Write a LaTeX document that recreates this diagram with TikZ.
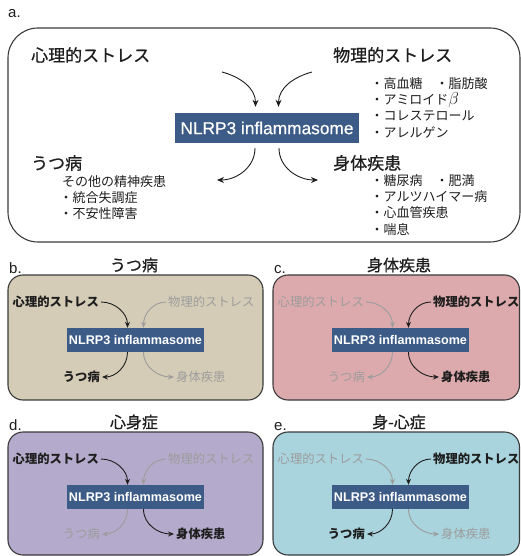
\documentclass[tikz,border=0pt]{standalone}
\usepackage{fontspec}
\setmainfont{Liberation Sans}
\newfontfamily\nlfont[FakeBold=0.6]{Liberation Sans}
\newfontfamily\jp{Noto Sans CJK JP}
\newfontfamily\jpm[FakeBold=0.8]{Noto Sans CJK JP}
\usetikzlibrary{arrows.meta}
\definecolor{nlblue}{HTML}{3D5B87}
\definecolor{boxline}{HTML}{3A3A3A}
\definecolor{dark}{HTML}{1E1E1E}
\definecolor{lgray}{HTML}{9C9C9C}
\definecolor{tanf}{HTML}{D4CCB6}
\definecolor{pinkf}{HTML}{DCAAAD}
\definecolor{lavf}{HTML}{B4AACB}
\definecolor{bluef}{HTML}{A9D3DD}
\tikzset{
  pbox/.style={draw=boxline, line width=1.1pt, rounded corners=15pt},
  lettr/.style={inner sep=0pt, font=\fontsize{15}{15}\selectfont, text=dark},
  ttl/.style={inner sep=0pt, font=\jpm\fontsize{16}{18}\selectfont, text=dark},
  nlbig/.style={fill=nlblue, text=white, inner xsep=5pt, inner ysep=0pt, minimum height=30pt, font=\nlfont\fontsize{17.3}{18}\selectfont},
  nlsm/.style={fill=nlblue, text=white, inner xsep=2pt, inner ysep=0pt, minimum height=24pt, font=\bfseries\fontsize{12.6}{14}\selectfont},
  onlab/.style={inner xsep=2pt, inner ysep=1pt, text=dark, font=\jp\bfseries\fontsize{12.3}{14}\selectfont},
  offlab/.style={inner xsep=2pt, inner ysep=1pt, text=lgray, font=\jp\fontsize{12.3}{14}\selectfont},
  onarr/.style={draw=dark, line width=0.9pt, -{Stealth[length=6pt,width=5pt]}},
  offarr/.style={draw=lgray, line width=0.9pt, -{Stealth[length=6pt,width=5pt]}},
  bigarr/.style={draw=dark, line width=0.9pt, -{Stealth[length=7pt,width=6pt]}},
  head/.style={inner sep=0pt, anchor=west, text=dark, font=\jpm\fontsize{17}{18}\selectfont},
  item/.style={inner sep=0pt, anchor=west, text=dark, font=\jp\fontsize{13}{14}\selectfont},
}
\newcommand\fpanel[7]{%
  \begin{scope}[shift={#2}]
    \draw[pbox, fill=#4] (0,0) rectangle (#3,#7);
    \node[lettr, anchor=base west] (#1let) at (1,-2) {#5.};
    \node[ttl] (#1ttl) at (126,-10) {#6};
    \node[nlsm] (#1nl) at (127.5,65) {NLRP3 inflammasome};
    \node[LT, anchor=east] (#1lt) at (93,27) {心理的ストレス};
    \node[RT, anchor=west] (#1rt) at (158,27) {物理的ストレス};
    \node[LB, anchor=east] (#1lb) at (94,102) {うつ病};
    \node[RB, anchor=west] (#1rb) at (166,102) {身体疾患};
    \draw[LTa] (#1lt.east) to[out=0,in=90] ([xshift=-8pt]#1nl.north);
    \draw[RTa] (#1rt.west) to[out=180,in=90] ([xshift=8pt]#1nl.north);
    \draw[LBa] ([xshift=-8pt]#1nl.south) to[out=-90,in=0] (#1lb.east);
    \draw[RBa] ([xshift=8pt]#1nl.south) to[out=-90,in=180] (#1rb.west);
  \end{scope}}
\begin{document}
\begin{tikzpicture}[x=1pt,y=-1pt]
\useasboundingbox (0,0) rectangle (521,556);
% panel a
\node[lettr, anchor=base west] (alet) at (8,18) {a.};
\draw[boxline, line width=1.1pt, rounded corners=30pt] (8,28) rectangle (520,242);
\node[nlbig] (anl) at (267,128) {NLRP3 inflammasome};
\node[head] (ah1) at (31,55) {心理的ストレス};
\node[head] (ah2) at (333,55) {物理的ストレス};
\node[head] (ah3) at (31,163) {うつ病};
\node[head] (ah4) at (333,163) {身体疾患};
\node[item] (ar1) at (370.5,84) {・高血糖　・脂肪酸};
\node[item] (ar2) at (370.5,100) {・アミロイド{\fontsize{17}{17}\selectfont$\beta$}};
\node[item] (ar3) at (370.5,116) {・コレステロール};
\node[item] (ar4) at (370.5,132) {・アレルゲン};
\node[item] (al1) at (62,182) {その他の精神疾患};
\node[item] (al2) at (59.5,198) {・統合失調症};
\node[item] (al3) at (59.5,214) {・不安性障害};
\node[item] (ab1) at (370.5,181) {・糖尿病　・肥満};
\node[item] (ab2) at (370.5,197) {・アルツハイマー病};
\node[item] (ab3) at (370.5,213) {・心血管疾患};
\node[item] (ab4) at (370.5,229) {・喘息};
\coordinate (ta) at (222,72);
\coordinate (tb) at (312,72);
\coordinate (ba) at (217,180);
\coordinate (bb) at (318,180);
\draw[bigarr] (ta) to[out=-15,in=90] ([xshift=-11.5pt,yshift=6pt]anl.north);
\draw[bigarr] (tb) to[out=195,in=90] ([xshift=11.5pt,yshift=6pt]anl.north);
\draw[bigarr] ([xshift=-12pt,yshift=-5pt]anl.south) to[out=-90,in=0] (ba);
\draw[bigarr] ([xshift=12pt,yshift=-5pt]anl.south) to[out=-90,in=180] (bb);
% panel b
\tikzset{LT/.style=onlab, RT/.style=offlab, LB/.style=onlab, RB/.style=offlab,
  LTa/.style=onarr, RTa/.style=offarr, LBa/.style=onarr, RBa/.style=offarr}
\fpanel{b}{(8,275)}{255}{tanf}{b}{うつ病}{125}
% panel c
\tikzset{LT/.style=offlab, RT/.style=onlab, LB/.style=offlab, RB/.style=onlab,
  LTa/.style=offarr, RTa/.style=onarr, LBa/.style=offarr, RBa/.style=onarr}
\fpanel{c}{(273,275)}{246.5}{pinkf}{c}{身体疾患}{125}
% panel d
\tikzset{LT/.style=onlab, RT/.style=offlab, LB/.style=offlab, RB/.style=onlab,
  LTa/.style=onarr, RTa/.style=offarr, LBa/.style=offarr, RBa/.style=onarr}
\fpanel{d}{(8,432)}{255}{lavf}{d}{心身症}{123}
% panel e
\tikzset{LT/.style=offlab, RT/.style=onlab, LB/.style=onlab, RB/.style=offlab,
  LTa/.style=offarr, RTa/.style=onarr, LBa/.style=onarr, RBa/.style=offarr}
\fpanel{e}{(273,432)}{246.5}{bluef}{e}{身-心症}{123}
\end{tikzpicture}
\end{document}
